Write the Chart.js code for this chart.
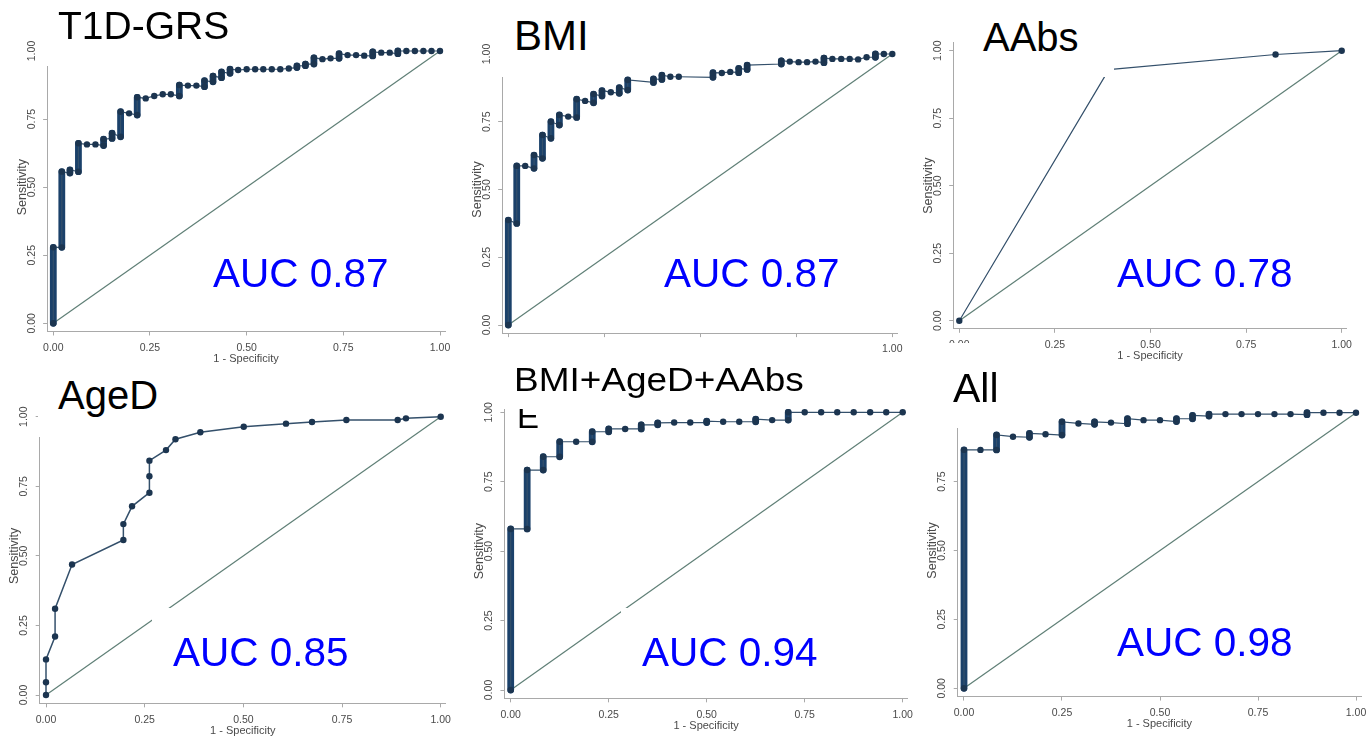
<!DOCTYPE html>
<html>
<head>
<meta charset="utf-8">
<script src="https://cdn.jsdelivr.net/npm/chart.js@4.4.1/dist/chart.umd.min.js"></script>
<style>
html,body{margin:0;padding:0;background:#fff;}
body{width:1370px;height:739px;overflow:hidden;position:relative;font-family:"Liberation Sans",Arial,sans-serif;}
canvas{position:absolute;z-index:1;}
.mask{position:absolute;background:#fff;z-index:3;}
.txt{position:absolute;white-space:nowrap;line-height:1;z-index:4;color:#000;transform-origin:left top;}
.under{z-index:2;}
.auc{color:#0000ff;}
</style>
</head>
<body>
<script>
// ---------------- data ----------------
const tickValues = [0, 0.25, 0.5, 0.75, 1];
const panelTitles = ['T1D-GRS', 'BMI', 'AAbs', 'AgeD', 'BMI+AgeD+AAbs', 'All'];
const aucLabels = ['AUC 0.87', 'AUC 0.87', 'AUC 0.78', 'AUC 0.85', 'AUC 0.94', 'AUC 0.98'];
const xAxisTitle = '1 - Specificity';
const yAxisTitle = 'Sensitivity';
const strayLetter = 'E';

// T1D-GRS
const grsFpr = [0.000,0.022,0.043,0.065,0.087,0.109,0.130,0.152,0.174,0.196,0.217,0.239,0.261,0.283,0.304,0.326,0.348,0.370,0.391,0.413,0.435,0.457,0.478,0.500,0.522,0.543,0.565,0.587,0.609,0.630,0.652,0.674,0.696,0.717,0.739,0.761,0.783,0.804,0.826,0.848,0.870,0.891,0.913,0.935,0.957,0.978,1.000];
const grsSensLo = [0,0.279,0.552,0.557,0.657,0.657,0.653,0.679,0.685,0.771,0.765,0.826,0.835,0.841,0.841,0.835,0.873,0.873,0.869,0.887,0.902,0.918,0.930,0.933,0.933,0.933,0.933,0.933,0.936,0.939,0.946,0.952,0.970,0.973,0.973,0.985,0.985,0.983,0.982,0.994,0.994,0.990,1,1,1,1,1];
const grsSensHi = [0.279,0.557,0.563,0.661,0.657,0.657,0.676,0.698,0.777,0.771,0.830,0.826,0.835,0.841,0.841,0.875,0.873,0.873,0.891,0.908,0.923,0.933,0.930,0.933,0.933,0.933,0.933,0.933,0.936,0.945,0.952,0.975,0.970,0.973,0.990,0.985,0.985,0.983,0.997,0.994,0.994,1,1,1,1,1,1];

// BMI
const bmiFpr = [0,0.022,0.044,0.067,0.089,0.111,0.133,0.156,0.178,0.200,0.222,0.244,0.267,0.289,0.311,0.378,0.400,0.422,0.444,0.533,0.556,0.578,0.600,0.622,0.711,0.733,0.756,0.778,0.800,0.822,0.844,0.867,0.889,0.911,0.933,0.956,0.978,1.000];
const bmiSensLo = [0,0.375,0.587,0.578,0.615,0.689,0.738,0.769,0.766,0.827,0.820,0.845,0.859,0.855,0.867,0.895,0.906,0.916,0.916,0.914,0.930,0.934,0.931,0.943,0.963,0.972,0.970,0.970,0.972,0.968,0.982,0.982,0.982,0.980,0.988,0.988,1,1];
const bmiSensHi = [0.387,0.587,0.587,0.627,0.701,0.750,0.775,0.769,0.833,0.827,0.852,0.865,0.859,0.876,0.904,0.908,0.922,0.916,0.916,0.931,0.930,0.934,0.947,0.959,0.975,0.972,0.970,0.970,0.972,0.985,0.982,0.982,0.982,0.980,0.988,1,1,1];

// AAbs
const aabsFpr = [0, 0.391, 0.827, 1];
const aabsSens = [0, 0.930, 0.986, 1];

// AgeD
const agedFpr = [0,0,0,0.023,0.023,0.066,0.196,0.196,0.218,0.262,0.262,0.262,0.304,0.328,0.391,0.501,0.608,0.674,0.761,0.891,0.912,1];
const agedSens = [0,0.046,0.128,0.210,0.310,0.469,0.557,0.614,0.678,0.727,0.786,0.842,0.880,0.919,0.944,0.964,0.975,0.981,0.988,0.988,0.994,1];

// BMI+AgeD+AAbs
const comboFpr = [0,0.042,0.083,0.125,0.167,0.208,0.250,0.292,0.333,0.375,0.417,0.458,0.500,0.542,0.583,0.625,0.667,0.708,0.750,0.792,0.833,0.875,0.917,0.958,1];
const comboSensLo = [0,0.580,0.792,0.840,0.894,0.894,0.930,0.940,0.940,0.955,0.963,0.963,0.963,0.966,0.966,0.966,0.972,0.972,1,1,1,1,1,1,1];
const comboSensHi = [0.580,0.792,0.840,0.894,0.894,0.930,0.940,0.940,0.955,0.962,0.963,0.963,0.968,0.966,0.966,0.975,0.972,1,1,1,1,1,1,1,1];

// All
const allFpr = [0,0.042,0.083,0.125,0.167,0.208,0.250,0.292,0.333,0.375,0.417,0.458,0.500,0.542,0.583,0.625,0.667,0.708,0.750,0.792,0.833,0.875,0.917,0.958,1];
const allSensLo = [0,0.865,0.865,0.913,0.911,0.922,0.919,0.961,0.958,0.964,0.960,0.973,0.973,0.968,0.978,0.988,0.995,0.995,0.995,0.995,0.995,0.993,1,1,1];
const allSensHi = [0.865,0.865,0.919,0.913,0.925,0.922,0.967,0.961,0.967,0.964,0.978,0.973,0.973,0.978,0.990,0.995,0.995,0.995,0.995,0.995,0.995,1,1,1,1];

// ---------------- layout & style ----------------
const FONT = '"Liberation Sans", Arial, sans-serif';
const XMIN = -0.016, XMAX = 1.013, YMIN = -0.03, YMAX = 1.03;
const Y_W = 33, X_H = 34;
const COL = {diag:'#5f7f76', line:'#34506b', mark:'#1c3550', bar:'#1b416a', axis:'#a9a9a9', tick:'#4a4a4a'};

const panels = [
  {fpr:grsFpr, lo:grsSensLo, hi:grsSensHi, box:{x0:53.3,x1:440,y0:323.3,y1:51}},
  {fpr:bmiFpr, lo:bmiSensLo, hi:bmiSensHi, box:{x0:508.3,x1:892.3,y0:325,y1:54}, xOnlyLast:true, noXTitle:true},
  {fpr:aabsFpr, lo:aabsSens, hi:aabsSens, box:{x0:959.3,x1:1341.7,y0:320.7,y1:50.7}},
  {fpr:agedFpr, lo:agedSens, hi:agedSens, box:{x0:46,x1:440.7,y0:695,y1:416.7}, lineW:1.5},
  {fpr:comboFpr, lo:comboSensLo, hi:comboSensHi, box:{x0:510.7,x1:902.7,y0:690,y1:412.3}},
  {fpr:allFpr, lo:allSensLo, hi:allSensHi, box:{x0:964,x1:1356,y0:688.3,y1:412.7}, hideYTop:true}
];

function makePanel(p){
  const b = p.box, ux = b.x1 - b.x0, uy = b.y0 - b.y1;
  const aL = b.x0 + XMIN*ux, aR = b.x0 + XMAX*ux, aT = b.y0 - YMAX*uy, aB = b.y0 - YMIN*uy;
  const cl = Math.floor(aL - 40), ct = Math.floor(aT - 15), cr = Math.ceil(aR + 22), cb = Math.ceil(aB + 46);
  const cv = document.createElement('canvas');
  cv.width = cr - cl; cv.height = cb - ct;
  cv.style.left = cl + 'px'; cv.style.top = ct + 'px';
  cv.style.width = (cr - cl) + 'px'; cv.style.height = (cb - ct) + 'px';
  document.body.appendChild(cv);

  const roc = [], bars = [];
  for (let k = 0; k < p.fpr.length; k++){
    roc.push({x:p.fpr[k], y:p.lo[k]});
    if (p.hi[k] !== p.lo[k]){
      roc.push({x:p.fpr[k], y:p.hi[k]});
      bars.push({x:p.fpr[k], y:p.lo[k]}, {x:p.fpr[k], y:p.hi[k]}, {x:p.fpr[k], y:null});
    }
  }
  const axisCommon = (isX) => ({
    type:'linear',
    min: isX ? XMIN : YMIN, max: isX ? XMAX : YMAX,
    afterBuildTicks: s => { s.ticks = tickValues.map(v => ({value:v})); },
    afterFit: s => { if (isX) s.height = X_H; else s.width = Y_W; },
    grid:{drawOnChartArea:false, drawTicks:true, tickLength:4, color:COL.axis, lineWidth:1},
    border:{display:true, color:COL.axis, width:1}
  });
  const xs = Object.assign(axisCommon(true), {
    ticks:{font:{family:FONT, size:10.5}, color:COL.tick, padding:6, maxRotation:0, minRotation:0, autoSkip:false,
      callback:(v) => (p.xOnlyLast && v !== 1) ? '' : Number(v).toFixed(2)},
    title:{display:!p.noXTitle, text:xAxisTitle, font:{family:FONT, size:11}, color:COL.tick, padding:{top:0, bottom:0}}
  });
  const ys = Object.assign(axisCommon(false), {
    ticks:{font:{family:FONT, size:10.5}, color:COL.tick, padding:1, minRotation:90, maxRotation:90, crossAlign:'center', autoSkip:false,
      callback:(v) => (p.hideYTop && v === 1) ? '' : Number(v).toFixed(2)},
    title:{display:true, text:yAxisTitle, font:{family:FONT, size:12.5}, color:COL.tick, padding:{top:0.5, bottom:0}}
  });
  new Chart(cv, {
    type:'scatter',
    data:{datasets:[
      {data:[{x:0,y:0},{x:1,y:1}], showLine:true, borderColor:COL.diag, borderWidth:1.2, pointRadius:0, order:3},
      {data:bars, showLine:true, borderColor:COL.bar, borderWidth:6.8, borderCapStyle:'round', pointRadius:0, spanGaps:false, order:2},
      {data:roc, showLine:true, borderColor:COL.line, borderWidth:p.lineW || 1.2, pointRadius:3.2, pointBorderWidth:0,
        pointBackgroundColor:COL.mark, order:1}
    ]},
    options:{
      responsive:false, animation:false, devicePixelRatio:1, events:[],
      plugins:{legend:{display:false}, tooltip:{enabled:false}},
      layout:{padding:{left:aL - cl - Y_W, top:aT - ct, right:cr - aR, bottom:cb - aB - X_H}},
      scales:{x:xs, y:ys}
    }
  });
}
panels.forEach(makePanel);

// white boxes that sit behind the panel labels
const masks = [[42,0,180,66],[497,0,105,77],[975,0,139,77],[38,370,128,67],[496,338,374,71],[925,343,115,85],[152,608,205,65],[621,608,205,65]];
masks.forEach(m => {
  const d = document.createElement('div'); d.className = 'mask';
  d.style.left = m[0]+'px'; d.style.top = m[1]+'px'; d.style.width = m[2]+'px'; d.style.height = m[3]+'px';
  document.body.appendChild(d);
});

function addText(text, x, capTop, size, cls, sx){
  const d = document.createElement('div'); d.className = 'txt ' + (cls || '');
  d.textContent = text;
  d.style.left = x + 'px'; d.style.top = (capTop - 0.13*size) + 'px';
  d.style.fontSize = size + 'px';
  if (sx) d.style.transform = 'scaleX(' + sx + ')';
  document.body.appendChild(d);
}
const titlePos = [[58,11,39],[514,20,42],[983,22,40],[58,380,40],[514,367,33,1.12],[953,373,41]];
panelTitles.forEach((t,i) => addText(t, titlePos[i][0], titlePos[i][1], titlePos[i][2], '', titlePos[i][3]));
const aucPos = [[213,258],[664,258],[1117,258],[173,637],[642,637],[1117,627]];
aucLabels.forEach((t,i) => addText(t, aucPos[i][0], aucPos[i][1], 40.5, 'auc'));
addText(strayLetter, 517, 404, 33, 'under');
</script>
</body>
</html>
